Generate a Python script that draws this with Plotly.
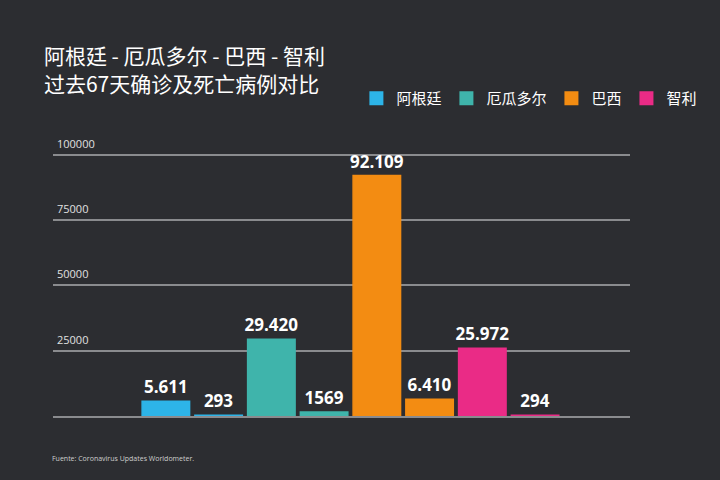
import plotly.graph_objects as go

countries = ["阿根廷", "厄瓜多尔", "巴西", "智利"]
confirmed = [5611, 29420, 92109, 25972]
deaths = [293, 1569, 6410, 294]
confirmed_labels = ["5.611", "29.420", "92.109", "25.972"]
death_labels = ["293", "1569", "6.410", "294"]
colors = ["#2db4e8", "#3fb4ab", "#f38c12", "#ea2b86"]
y_ticks = [25000, 50000, 75000, 100000]
y_tick_labels = ["25000", "50000", "75000", "100000"]

bg = "#2c2d31"
fig = go.Figure()
for i, c in enumerate(countries):
    fig.add_trace(go.Bar(
        name=c,
        x=[c + "确诊", c + "死亡"],
        y=[confirmed[i], deaths[i]],
        text=[confirmed_labels[i], death_labels[i]],
        textposition="outside",
        constraintext="none",
        textfont=dict(color="white", size=17, family="Open Sans", weight="bold"),
        marker=dict(color=colors[i], line=dict(width=1.5, color=colors[i])),
        width=0.9,
        cliponaxis=False,
    ))

annotations = [dict(text=lab, xref="paper", yref="y", x=0.004, y=v,
                    xanchor="left", yanchor="bottom", yshift=2, showarrow=False,
                    font=dict(color="#e0e0e0", size=11, family="Open Sans"))
               for v, lab in zip(y_ticks, y_tick_labels)]
annotations.append(dict(text="Fuente: Coronavirus Updates Worldometer.",
                        xref="paper", yref="paper", x=-0.006, y=-0.16,
                        xanchor="left", yanchor="middle", showarrow=False,
                        font=dict(color="#cfcfcf", size=7, family="Open Sans")))

fig.update_layout(
    width=720, height=480,
    paper_bgcolor=bg, plot_bgcolor=bg,
    margin=dict(l=53, r=90, t=151, b=64),
    showlegend=True,
    legend=dict(orientation="h", xref="container", yref="container",
                x=0.495, y=0.795, xanchor="left", yanchor="middle",
                font=dict(color="white", size=15, family="Noto Sans CJK SC"),
                itemwidth=30, bgcolor="rgba(0,0,0,0)", itemsizing="constant",
                tracegroupgap=0),
    title=dict(text="阿根廷 - 厄瓜多尔 - 巴西 - 智利<br>过去67天确诊及死亡病例对比",
               xref="container", yref="container", x=0.061, y=0.866,
               xanchor="left", yanchor="top",
               font=dict(color="white", size=21, family="Noto Sans CJK SC")),
    xaxis=dict(type="category", range=[-2.14, 8.8], showticklabels=False,
               showgrid=False, showline=True, linecolor="#8a8b8e", linewidth=2,
               zeroline=False),
    yaxis=dict(range=[0, 101500], tickvals=y_ticks, showticklabels=False,
               showgrid=True, gridcolor="#8a8b8e", gridwidth=1.5, zeroline=False,
               showline=False, ticks=""),
    annotations=annotations,
)

fig.write_html("out.html", config={"displayModeBar": False},
               post_script="document.body.style.margin='0';document.body.style.overflow='hidden';")
